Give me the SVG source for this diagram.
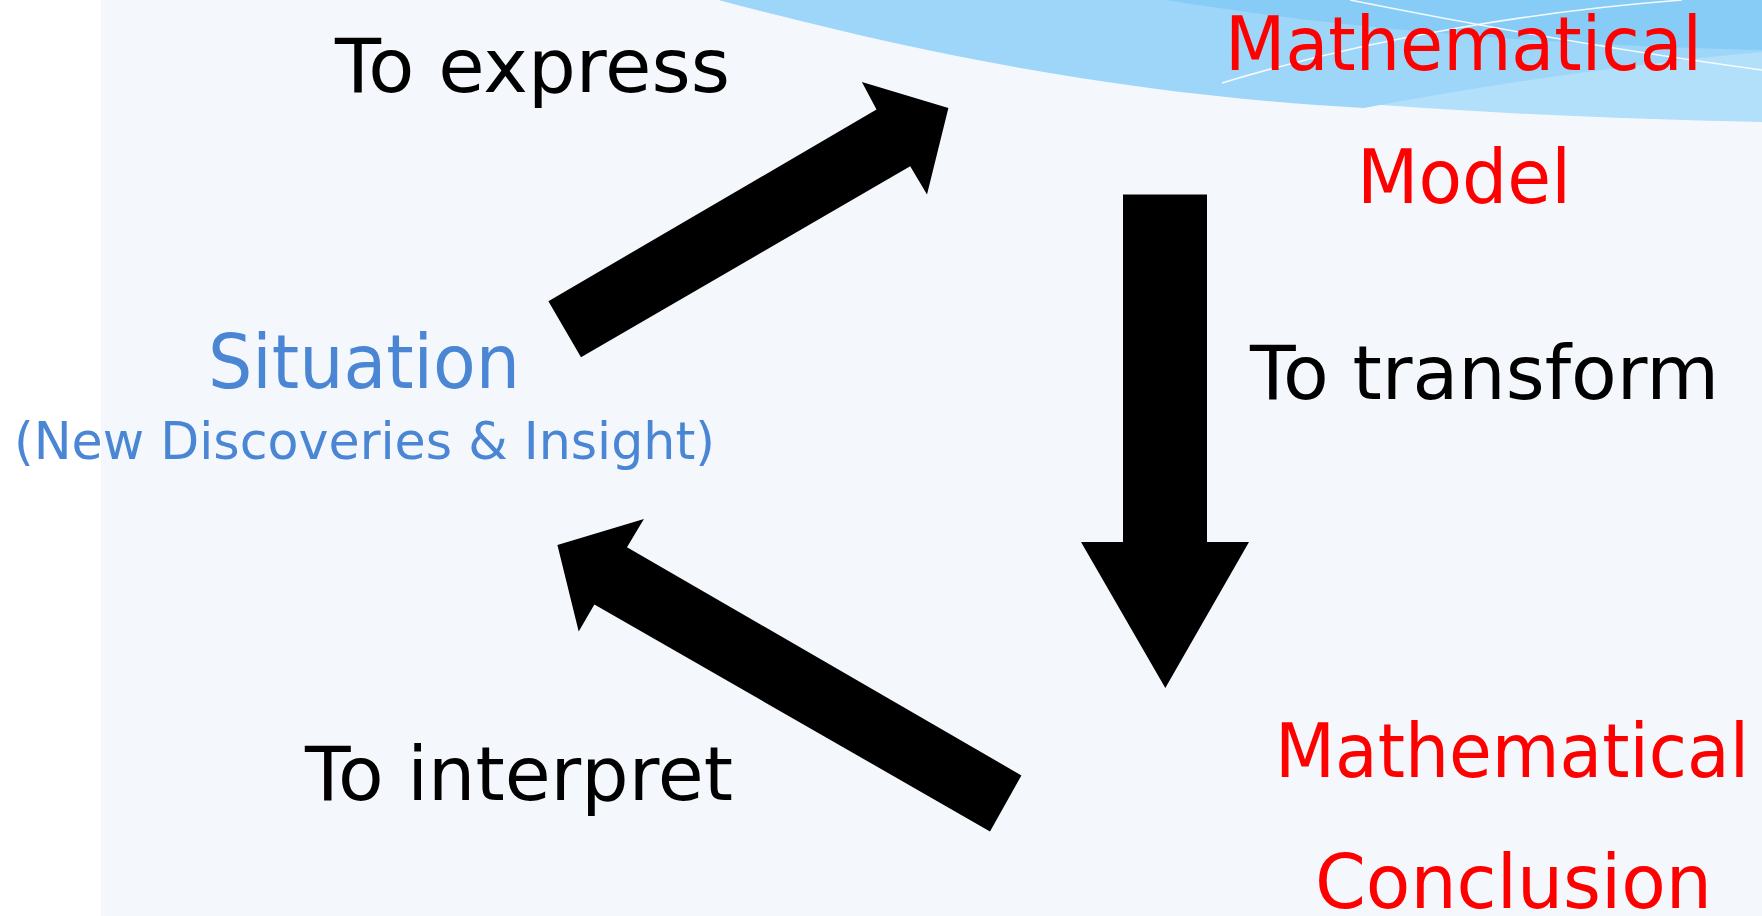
<svg xmlns="http://www.w3.org/2000/svg" width="1762" height="916" viewBox="0 0 1762 916">
<style>
.t{font-family:"DejaVu Sans","Verdana",sans-serif;font-size:75px}
.k{fill:#000}
.r{fill:#FF0000}
.b{fill:#4A86D4}
.arrow{fill:#000;stroke:none}
.wl{fill:none;stroke:#FFFFFF;stroke-width:1.5;opacity:0.9}
</style>
<rect x="0" y="0" width="1762" height="916" fill="#FFFFFF"/>
<rect x="101" y="0" width="1661" height="916" fill="#F4F8FC"/>
<g id="wave">
<path d="M719,0 C950,62 1250,112 1762,122 L1762,0 Z" fill="#B2DFF9"/>
<path d="M719,0 C950,62 1150,96 1364,108 C1500,82 1650,62 1762,52 L1762,0 Z" fill="#9DD6F8"/>
<path d="M1167,0 C1350,30 1550,45 1762,50 L1762,0 Z" fill="#86CCF6"/>
<path d="M1222,83 C1380,35 1550,10 1682,0" class="wl"/>
<path d="M1350,0 C1500,30 1650,55 1762,70" class="wl"/>
</g>
<g id="connectors">
<polygon class="arrow" points="548.4,301.2 876.5,109.5 861.9,82 948.4,107.9 927,194.4 910.2,166.3 581,357.3"/>
<polygon class="arrow" points="1123,194.5 1207,194.5 1207,542 1249,542 1165.3,688 1081,542 1123,542"/>
<polygon class="arrow" points="1021.4,775.4 627,547.2 643.9,519.1 557.4,545 578.7,631.5 594.4,604.5 990,831.5"/>
</g>
<g id="label-express"><text class="t k" x="335" y="92" textLength="395" lengthAdjust="spacingAndGlyphs">To express</text></g>
<g id="node-model">
<text class="t r" x="1225" y="70" textLength="477" lengthAdjust="spacingAndGlyphs">Mathematical</text>
<text class="t r" x="1357" y="203" textLength="214" lengthAdjust="spacingAndGlyphs">Model</text>
</g>
<g id="label-transform"><text class="t k" x="1250" y="399" textLength="469" lengthAdjust="spacingAndGlyphs">To transform</text></g>
<g id="node-situation">
<text class="t b" x="208" y="388" textLength="312" lengthAdjust="spacingAndGlyphs">Situation</text>
<text class="t b" x="14" y="459" style="font-size:52px" textLength="701" lengthAdjust="spacingAndGlyphs">(New Discoveries &amp; Insight)</text>
</g>
<g id="label-interpret"><text class="t k" x="305" y="800" textLength="428" lengthAdjust="spacingAndGlyphs">To interpret</text></g>
<g id="node-conclusion">
<text class="t r" x="1275" y="777" textLength="474" lengthAdjust="spacingAndGlyphs">Mathematical</text>
<text class="t r" x="1315" y="908" textLength="397" lengthAdjust="spacingAndGlyphs">Conclusion</text>
</g>
</svg>
